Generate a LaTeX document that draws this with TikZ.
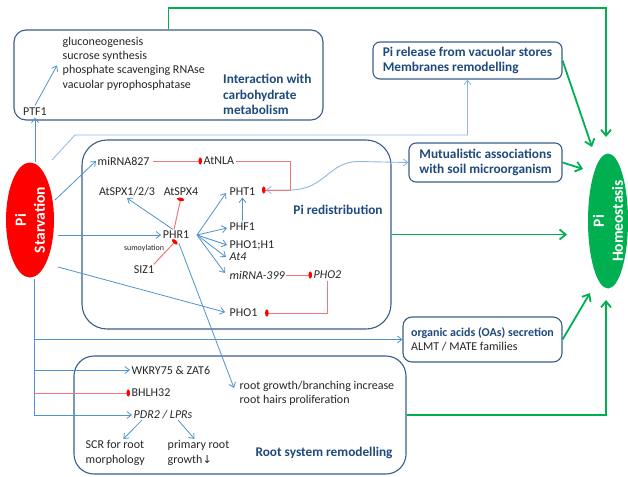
\documentclass[tikz,border=0pt]{standalone}
\usepackage{fontspec}
\setmainfont{Carlito}
\newfontfamily\symfont{DejaVu Sans}
\usetikzlibrary{arrows.meta,shapes.geometric,calc}
\definecolor{boxblue}{HTML}{385D8A}
\definecolor{titleblue}{HTML}{1F497D}
\definecolor{lblue}{HTML}{4F93CE}
\definecolor{llblue}{HTML}{8DB6E0}
\definecolor{lred}{HTML}{F07878}
\definecolor{pired}{HTML}{FF0000}
\definecolor{okgreen}{HTML}{00B050}
\definecolor{txtdark}{HTML}{262626}
\newcommand\regsize{\fontsize{12pt}{14.3pt}\selectfont}
\newcommand\titsize{\fontsize{13.3pt}{15.8pt}\selectfont}
\begin{document}
\begin{tikzpicture}[x=1pt,y=-1pt,
  box/.style={draw=boxblue, line width=1.1pt, rounded corners=#1, inner sep=0pt},
  box/.default=8pt,
  txt/.style={font=\regsize, text=txtdark, inner sep=1.5pt},
  tit/.style={font=\titsize\bfseries, text=titleblue, inner sep=1pt, align=left},
  barrow/.style={draw=lblue, line width=0.8pt, -{Straight Barb[length=4.5pt,width=7pt]}},
  garrow/.style={draw=okgreen, line width=1.8pt, -{Straight Barb[length=6pt,width=10pt]}},
  rinh/.style={draw=lred, line width=1pt, -{Ellipse[length=3.5pt,width=7pt,color=pired,fill=pired]}},
  bigtxt/.style={rotate=90, text=white, font=\fontsize{15.5pt}{19pt}\selectfont\bfseries, align=center}
]
\useasboundingbox (0,0) rectangle (628,476);

% ---------- boxes ----------
\node[box=12pt, minimum width=309pt, minimum height=90pt] (carbobox) at (168.5,75) {};
\node[box=25pt, minimum width=309pt, minimum height=189pt] (pibox) at (236.5,234.5) {};
\node[box=20pt, minimum width=332pt, minimum height=118pt] (rootbox) at (240,415) {};
\node[box=7pt, tit, minimum width=189pt, minimum height=37pt] (pirel) at (467.5,60.5) {Pi release from vacuolar stores\\Membranes remodelling};
\node[box=7pt, tit, minimum width=153pt, minimum height=39pt] (mutual) at (485.5,162.5) {Mutualistic associations\\with soil microorganism};
\node[box=9pt, minimum width=159pt, minimum height=45pt, align=left, inner sep=1pt, font=\regsize] (organic) at (482.5,339.5)
  {{\fontsize{12pt}{14.3pt}\selectfont\bfseries\color{titleblue}organic acids (OAs) secretion}\\{\regsize\color{txtdark}ALMT / MATE families}};

% ---------- ellipses ----------
\node[ellipse, fill=pired, minimum width=48pt, minimum height=115pt, inner sep=0pt] (starv) at (30,220) {};
\node[bigtxt] (starvtxt) at (starv.center) {Pi\\Starvation};
\node[ellipse, fill=okgreen, minimum width=40pt, minimum height=135pt, inner sep=0pt] (homeo) at (608,221) {};
\node[bigtxt] (homeotxt) at (homeo.center) {Pi\\Homeostasis};

% ---------- texts ----------
\node[txt, align=left, anchor=west] (carbo) at (61,63.5) {gluconeogenesis\\sucrose synthesis\\phosphate scavenging RNAse\\vacuolar pyrophosphatase};
\node[tit, anchor=west] (carbotit) at (222,94.5) {Interaction with\\carbohydrate\\metabolism};
\node[txt] (ptf1) at (35,112) {PTF1};
\node[tit] (piredist) at (338,210) {Pi redistribution};

\node[txt, anchor=west] (mir827) at (96,161) {miRNA827};
\node[txt, anchor=west] (atnla) at (202,161) {AtNLA};
\node[txt] (spx123) at (127,192) {AtSPX1/2/3};
\node[txt] (spx4) at (181,192) {AtSPX4};
\node[txt] (phr1) at (176,235) {PHR1};
\node[txt, font=\fontsize{8pt}{9pt}\selectfont] (sumo) at (144,248) {sumoylation};
\node[txt] (siz1) at (144,270) {SIZ1};
\node[txt, anchor=west] (pht1) at (228,192) {PHT1};
\node[txt, anchor=west] (phf1) at (228,227) {PHF1};
\node[txt, anchor=west] (pho1h1) at (228,245) {PHO1;H1};
\node[txt, anchor=west] (at4) at (228,257) {\itshape At4};
\node[txt, anchor=west] (mir399) at (228,275) {\itshape miRNA-399};
\node[txt, anchor=west] (pho2) at (312,275) {\itshape PHO2};
\node[txt, anchor=west] (pho1) at (228,313) {PHO1};

\node[txt, anchor=west] (wkry) at (130,370) {WKRY75 \& ZAT6};
\node[txt, anchor=west] (bhlh) at (130,393) {BHLH32};
\node[txt, anchor=west] (pdr2) at (132,415) {\itshape PDR2 / LPRs};
\node[txt, anchor=west, align=left] (scr) at (84,453) {SCR for root\\morphology};
\node[txt, anchor=west, align=left] (primary) at (166,453) {primary root\\growth{\symfont\fontsize{11pt}{13pt}\selectfont ↓}};
\node[txt, anchor=west, align=left] (rootgrowth) at (238,393) {root growth/branching increase\\root hairs proliferation};
\node[tit] (roottit) at (324,453) {Root system remodelling};

% ---------- coordinates ----------
\coordinate (s2a) at (52,160);
\coordinate (s2b) at (75,135);
\coordinate (s3) at (55,200);
\coordinate (s4) at (58,235);
\coordinate (s5) at (58,267);
\coordinate (vtop) at (34,279);
\coordinate (fan) at (197,235);
\coordinate (gcorner) at (606,8);
\coordinate (gtop) at (606,137);
\coordinate (gpr) at (592,147);
\coordinate (gmu) at (583,169);
\coordinate (gpi) at (567,234.5);
\coordinate (gorg) at (590,293);
\coordinate (gbot) at (606,300);

% ---------- blue connectors ----------
\draw[barrow] (ptf1.south |- starv.north) -- (ptf1.south);
\draw[barrow] ($(ptf1.north)+(0,-1)$) -- ($(carbo.west)+(-4,2)$);
\draw[barrow, draw=llblue] (s2a) -- (s2b) -| (pirel.south);
\draw[barrow] (s3) -- (mir827.west);
\draw[barrow] (s4) -- (phr1.west);
\draw[barrow, shorten >=3pt] (s5) -- (pho1.west);
\draw[barrow] (vtop) |- (pdr2.west);
\draw[barrow] (vtop |- organic.west) -- (organic.west);
\draw[barrow] (vtop |- wkry.west) -- (wkry.west);
\draw[rinh] (vtop |- bhlh.west) -- (bhlh.west);

\draw[barrow] ($(phr1.north)+(-3,0)$) -- (spx123.south);
\draw[barrow] (fan) -- ($(pht1.west)+(-2,1)$);
\draw[barrow] (fan) -- ($(phf1.west)+(-1,1)$);
\draw[barrow] (fan) -- ($(pho1h1.west)+(-1,0)$);
\draw[barrow] (fan) -- ($(at4.west)+(-2,0)$);
\draw[barrow] (fan) -- ($(mir399.west)+(-3,-2)$);
\draw[barrow] (phf1.north) -- (pht1.south);
\draw[barrow] ($(phr1.south)+(3,3)$) -- ($(rootgrowth.west)+(-4,-5)$);
\draw[barrow] ($(pdr2.south west)+(10,-1)$) -- ($(scr.north)+(8,0)$);
\draw[barrow] ($(pdr2.south east)+(-16,-1)$) -- ($(primary.north)+(-4,0)$);
\draw[draw=llblue, line width=0.9pt, {Straight Barb[length=4.5pt,width=7pt]}-{Straight Barb[length=4.5pt,width=7pt]}]
  ($(pht1.east)+(9,-2)$) -- ++(24,0) .. controls +(35,0) and +(-30,0) .. ($(mutual.west)+(-50,-1)$) -- (mutual.west);

% ---------- red inhibitions ----------
\draw[rinh, shorten <=2pt] (mir827.east) -- (atnla.west);
\draw[rinh] (atnla.east) -| ($(pht1.east)+(33,-2)$) -- ($(pht1.east)+(5,-2)$);
\draw[rinh] ($(phr1.north)+(-2,0)$) -- (spx4.south);
\draw[rinh] ($(siz1.north east)+(-2,0)$) -- (phr1.south);
\draw[rinh] (mir399.east) -- (pho2.west);
\draw[rinh] (pho2.south) |- ($(pho1.east)+(6,0)$);

% ---------- green connectors ----------
\draw[garrow] (carbobox.north) |- (gcorner) -- (gtop);
\draw[garrow] (pirel.east) -- (gpr);
\draw[garrow] (mutual.east) -- (gmu);
\draw[garrow] (pibox.east) -- (gpi);
\draw[garrow] (organic.east) -- (gorg);
\draw[garrow] (rootbox.east) -| (gbot);
\end{tikzpicture}
\end{document}
